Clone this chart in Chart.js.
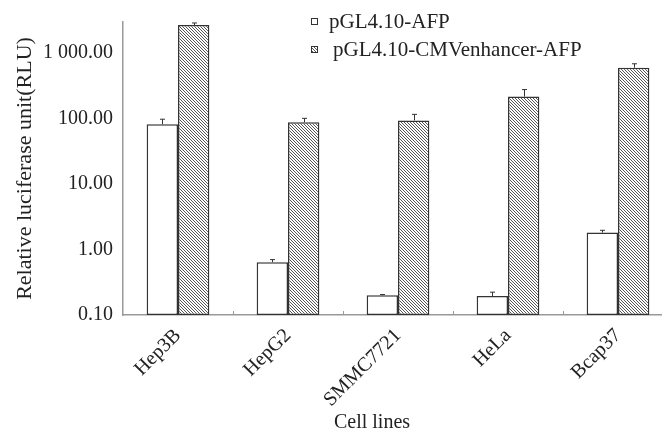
<!DOCTYPE html>
<html>
<head>
<meta charset="utf-8">
<script src="https://cdn.jsdelivr.net/npm/chart.js@4/dist/chart.umd.min.js"></script>
<style>
  html, body { margin: 0; padding: 0; background: #fff; overflow: hidden; }
  #wrap { width: 662px; height: 433px; overflow: hidden; }
</style>
</head>
<body>
<div id="wrap"><canvas id="chart" width="680" height="433"></canvas></div>
<script>
// Datos
const cellLines = ['Hep3B', 'HepG2', 'SMMC7721', 'HeLa', 'Bcap37'];
const afpValues = [81, 0.64, 0.20, 0.195, 1.81];
const afpErrors = [16, 0.06, 0.005, 0.028, 0.15];
const cmvValues = [2650, 87, 93, 215, 593];
const cmvErrors = [200, 13, 22, 60, 87];
const yTicks = [0.1, 1, 10, 100, 1000];
const yTickLabels = ['0.10', '1.00', '10.00', '100.00', '1 000.00'];
const seriesNames = ['pGL4.10-AFP', 'pGL4.10-CMVenhancer-AFP'];

const FONT = '"Liberation Serif", "Times New Roman", serif';

// Patrón rayado diagonal
function makeHatch() {
    const tile = document.createElement('canvas');
    tile.width = 3;
    tile.height = 3;
    const c = tile.getContext('2d');
    c.fillStyle = '#fff';
    c.fillRect(0, 0, 3, 3);
    c.fillStyle = '#555';
    for (let i = 0; i < 3; i++) c.fillRect(i, i, 1, 1);
    return c.createPattern(tile, 'repeat');
}

const ctx = document.getElementById('chart').getContext('2d');
const hatch = makeHatch();

// Barras de error, leyenda y título del eje x
const extrasPlugin = {
    id: 'extras',
    afterDatasetsDraw(chart) {
        const c = chart.ctx;
        const y = chart.scales.y;
        c.save();
        c.strokeStyle = '#333';
        c.lineWidth = 1;
        chart.data.datasets.forEach((ds, di) => {
            const meta = chart.getDatasetMeta(di);
            meta.data.forEach((bar, i) => {
                const top = y.getPixelForValue(ds.data[i] + ds.errors[i]);
                const bx = Math.round(bar.x) + 0.5;
                c.beginPath();
                c.moveTo(bx, bar.y);
                c.lineTo(bx, top);
                c.moveTo(bx - 2.5, top);
                c.lineTo(bx + 2.5, top);
                c.stroke();
            });
        });
        c.restore();
    },
    afterDraw(chart) {
        const c = chart.ctx;
        c.save();
        // Leyenda
        c.font = '21px ' + FONT;
        c.textBaseline = 'alphabetic';
        const items = [
            { box: [311, 18], text: [329, 28], fill: '#fff' },
            { box: [311, 46], text: [333, 56], fill: hatch }
        ];
        items.forEach((it, i) => {
            c.fillStyle = it.fill;
            c.fillRect(it.box[0], it.box[1], 6, 6);
            c.strokeStyle = '#333';
            c.lineWidth = 1;
            c.strokeRect(it.box[0] + 0.5, it.box[1] + 0.5, 6, 6);
            c.fillStyle = '#222';
            c.fillText(seriesNames[i], it.text[0], it.text[1]);
        });
        // Título eje x
        c.font = '20px ' + FONT;
        c.textAlign = 'center';
        c.textBaseline = 'middle';
        c.fillText('Cell lines', 372, 423);
        // Marcas del eje x entre categorías
        const x = chart.scales.x;
        const area = chart.chartArea;
        c.strokeStyle = '#999';
        c.lineWidth = 1;
        c.beginPath();
        for (let i = 1; i < cellLines.length; i++) {
            const px = Math.round((x.getPixelForTick(i - 1) + x.getPixelForTick(i)) / 2) + 0.5;
            c.moveTo(px, area.bottom);
            c.lineTo(px, area.bottom - 4);
        }
        c.stroke();
        c.restore();
    }
};

new Chart(ctx, {
    type: 'bar',
    data: {
        labels: cellLines,
        datasets: [{
            label: seriesNames[0],
            data: afpValues,
            errors: afpErrors,
            backgroundColor: '#fff',
            borderColor: '#333',
            borderWidth: 1.5,
            borderSkipped: false,
            categoryPercentage: 0.57,
            barPercentage: 1
        }, {
            label: seriesNames[1],
            data: cmvValues,
            errors: cmvErrors,
            backgroundColor: hatch,
            borderColor: '#333',
            borderWidth: 1.5,
            borderSkipped: false,
            categoryPercentage: 0.57,
            barPercentage: 1
        }]
    },
    options: {
        responsive: false,
        animation: false,
        layout: {
            padding: { left: 0, right: 7, top: 20, bottom: 0 }
        },
        plugins: {
            legend: { display: false },
            tooltip: { enabled: false }
        },
        scales: {
            x: {
                grid: { display: false, drawTicks: false },
                border: { color: '#999', width: 1.5 },
                ticks: {
                    color: '#222',
                    font: { family: FONT, size: 20 },
                    maxRotation: 45,
                    minRotation: 45,
                    padding: 9
                },
                afterFit(scale) { scale.height = 118; }
            },
            y: {
                type: 'logarithmic',
                min: 0.1,
                max: 2950,
                grid: { display: false, drawTicks: false },
                border: { color: '#999', width: 1.5 },
                afterBuildTicks(scale) {
                    scale.ticks = yTicks.map(v => ({ value: v }));
                },
                ticks: {
                    color: '#222',
                    font: { family: FONT, size: 20 },
                    padding: 10,
                    callback(value) {
                        const idx = yTicks.indexOf(value);
                        return idx >= 0 ? yTickLabels[idx] : '';
                    }
                },
                title: {
                    display: true,
                    text: 'Relative luciferase unit(RLU)',
                    color: '#222',
                    font: { family: FONT, size: 22 },
                    padding: { top: 12, bottom: 0 }
                },
                afterFit(scale) { scale.width = 123; }
            }
        }
    },
    plugins: [extrasPlugin]
});
</script>
</body>
</html>
